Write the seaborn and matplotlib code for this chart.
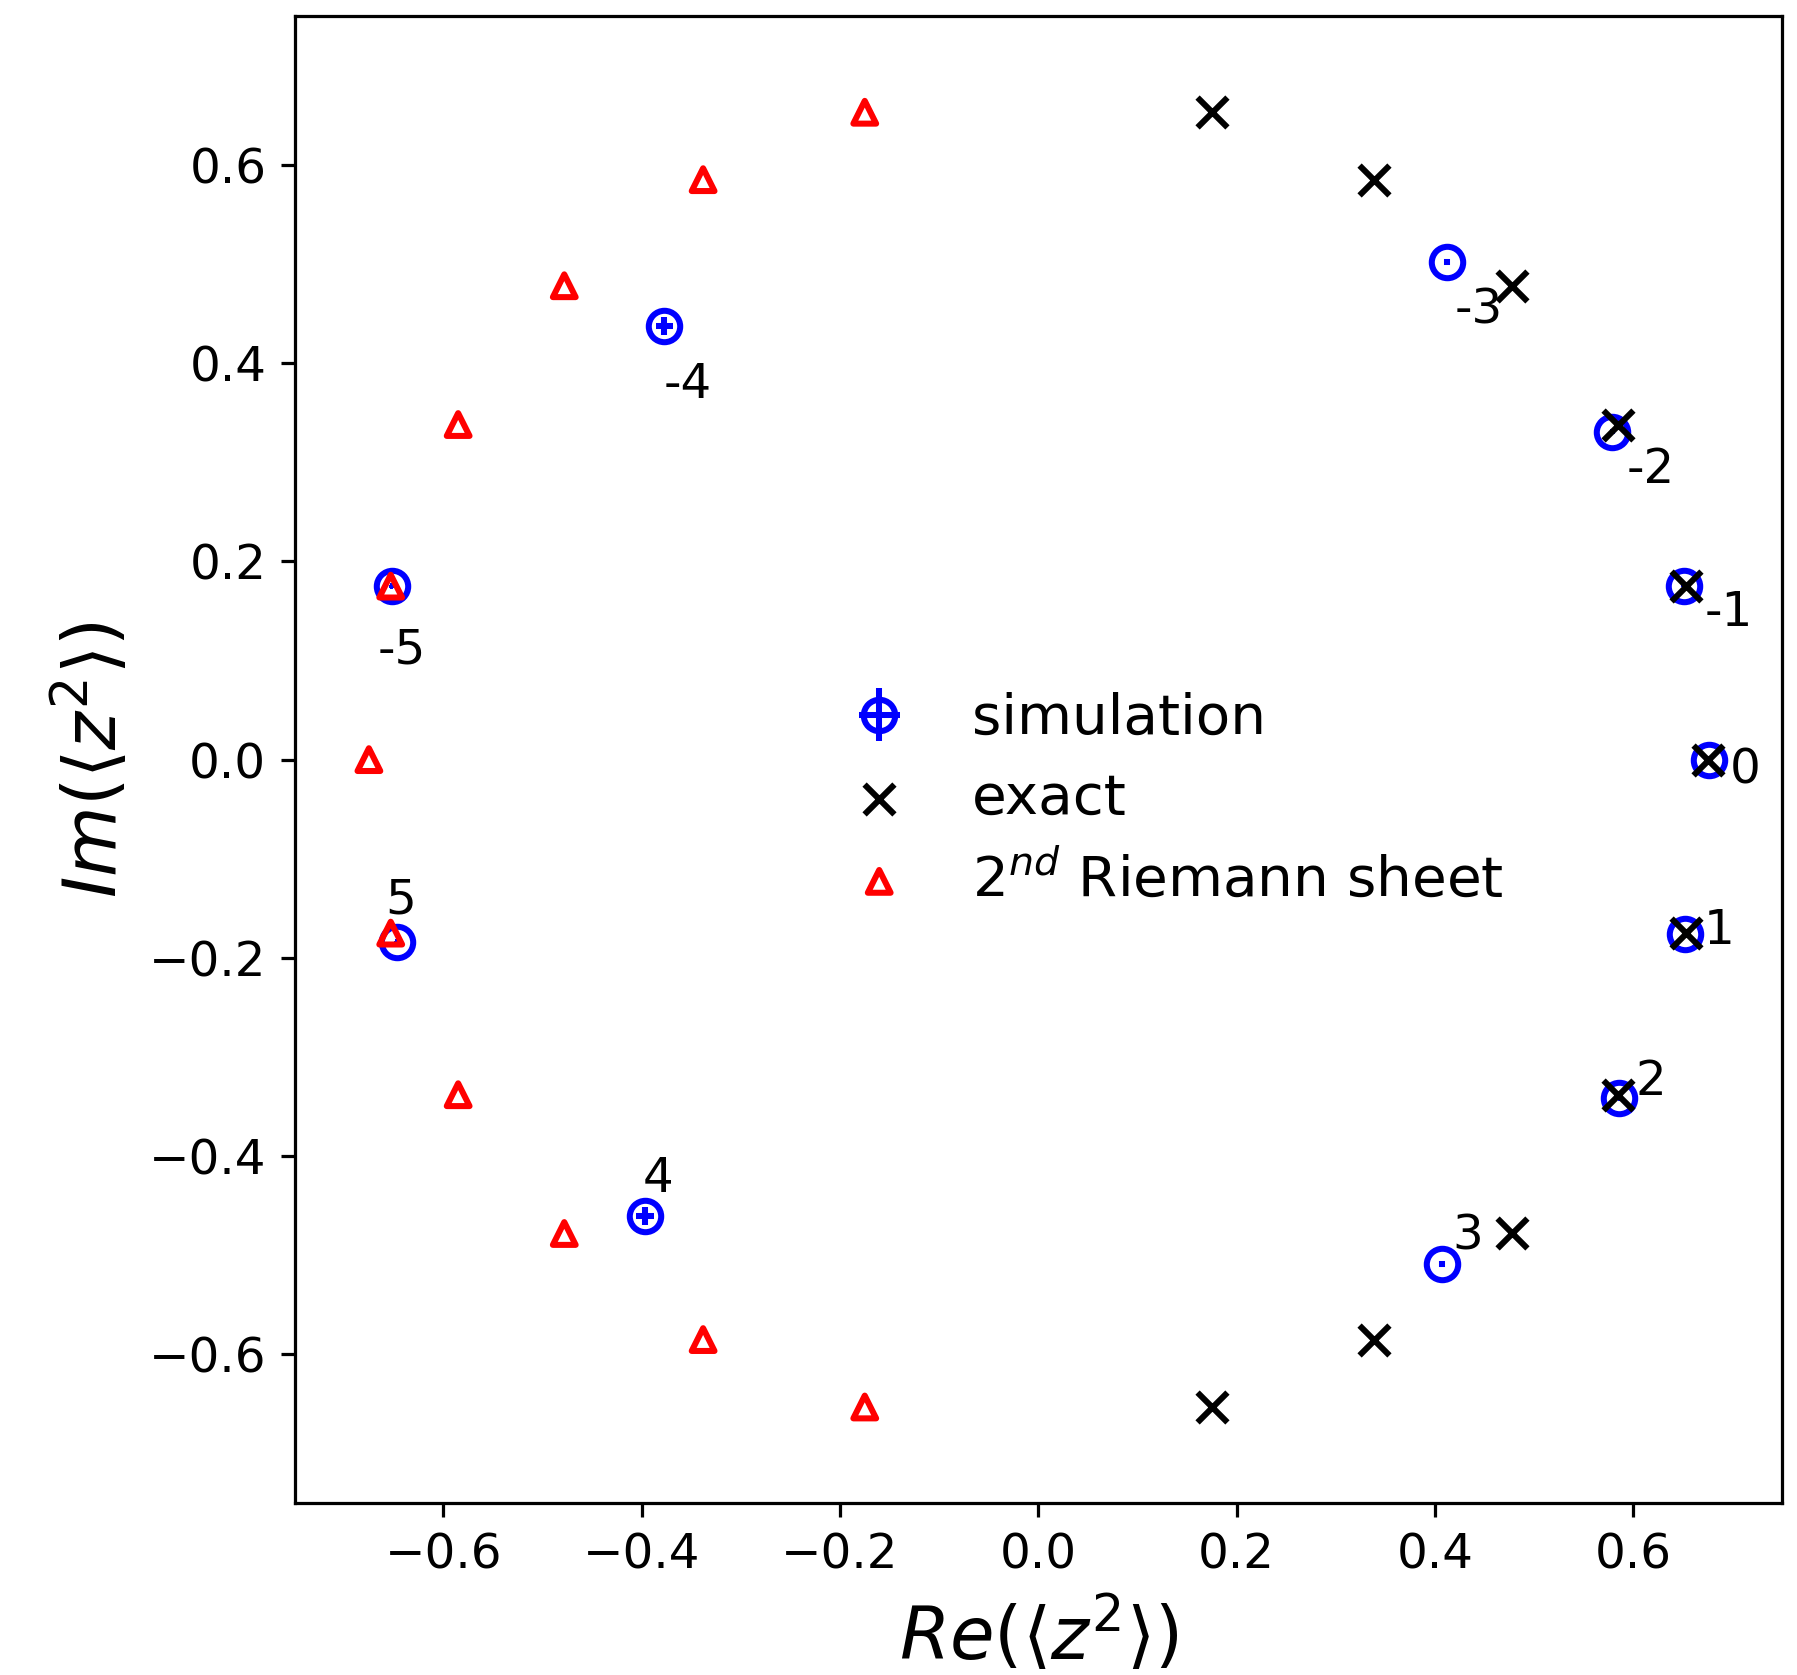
import matplotlib
matplotlib.use("Agg")
import matplotlib.pyplot as plt
from matplotlib.legend_handler import HandlerErrorbar
import seaborn as sns
import pandas as pd

# ---- data ----
sim_labels = ["0", "-1", "1", "-2", "2", "-3", "3", "-4", "4", "-5", "5"]
sim_re = [0.676, 0.651, 0.652, 0.578, 0.586, 0.412, 0.407, -0.377, -0.397, -0.652, -0.647]
sim_im = [0.000, 0.175, -0.176, 0.330, -0.341, 0.502, -0.509, 0.437, -0.460, 0.175, -0.184]
sim_err = [0.001, 0.001, 0.001, 0.0015, 0.0015, 0.003, 0.003, 0.009, 0.009, 0.0015, 0.0015]

exact_re = [0.675, 0.653, 0.653, 0.585, 0.585, 0.478, 0.478, 0.338, 0.338, 0.175, 0.175]
exact_im = [0.000, 0.175, -0.175, 0.338, -0.338, 0.478, -0.478, 0.585, -0.585, 0.653, -0.653]

riem_re = [-0.675, -0.653, -0.653, -0.585, -0.585, -0.478, -0.478, -0.338, -0.338, -0.175, -0.175]
riem_im = [0.000, 0.175, -0.175, 0.338, -0.338, 0.478, -0.478, 0.585, -0.585, 0.653, -0.653]

# label offsets (points) for the simulation index labels
label_dx = [9.1, 11.1, 8.5, 9.7, 7.7, 8.0, 6.3, 5.7, 3.4, 2.6, 0.9]
label_dy = [-2.6, -6.5, 0.9, -9.1, 4.0, -11.9, 7.1, -14.5, 9.1, -15.9, 10.5]

sns.set_style("ticks")
plt.rcParams["font.family"] = ["DejaVu Sans"]
plt.rcParams["mathtext.fontset"] = "dejavusans"
for key in ["text.color", "axes.labelcolor", "xtick.color", "ytick.color", "axes.edgecolor"]:
    plt.rcParams[key] = "black"

DPI = 290
fig = plt.figure(figsize=(1797 / DPI, 1675 / DPI), dpi=DPI)
ax = fig.add_axes([0.1639, 0.1026, 0.9917 - 0.1639, 0.9904 - 0.1026])

eb = ax.errorbar(sim_re, sim_im, xerr=sim_err, yerr=sim_err, fmt="o", color="blue",
                 markerfacecolor="none", markeredgecolor="blue", markersize=7.8,
                 markeredgewidth=1.5, elinewidth=1.5, capsize=0, zorder=3)

df_exact = pd.DataFrame({"re": exact_re, "im": exact_im})
df_riem = pd.DataFrame({"re": riem_re, "im": riem_im})

sns.scatterplot(data=df_exact, x="re", y="im", marker="x", color="black", s=55,
                linewidth=1.5, ax=ax, zorder=4)
exact_coll = ax.collections[-1]
sns.scatterplot(data=df_riem, x="re", y="im", marker="^", color="red", s=32,
                linewidth=1.5, ax=ax, zorder=5)
riem_coll = ax.collections[-1]
riem_coll.set_facecolor("none")
riem_coll.set_edgecolor("red")

for lab, x, y, dx, dy in zip(sim_labels, sim_re, sim_im, label_dx, label_dy):
    ax.annotate(lab, (x, y), xytext=(dx, dy), textcoords="offset points",
                ha="center", va="center", fontsize=12, color="black", zorder=6)

ax.set_xlim(-0.75, 0.75)
ax.set_ylim(-0.75, 0.75)
ax.set_xticks([-0.6, -0.4, -0.2, 0.0, 0.2, 0.4, 0.6])
ax.set_yticks([-0.6, -0.4, -0.2, 0.0, 0.2, 0.4, 0.6])
ax.tick_params(labelsize=12, length=3.5, width=0.8, direction="out", colors="black")
for sp in ax.spines.values():
    sp.set_linewidth(0.8)
    sp.set_color("black")

ax.set_xlabel(r"$Re(\langle z^2\rangle)$", fontsize=18)
ax.set_ylabel(r"$Im(\langle z^2\rangle)$", fontsize=18)

ax.legend([eb, exact_coll, riem_coll],
          ["simulation", "exact", r"$2^{nd}$ Riemann sheet"],
          loc="center", bbox_to_anchor=(0.584, 0.4727), frameon=False,
          fontsize=14, labelspacing=0.46, handletextpad=0.65,
          handler_map={type(eb): HandlerErrorbar(xerr_size=0.36, yerr_size=0.47)})

fig.savefig("out.png", dpi=DPI)
